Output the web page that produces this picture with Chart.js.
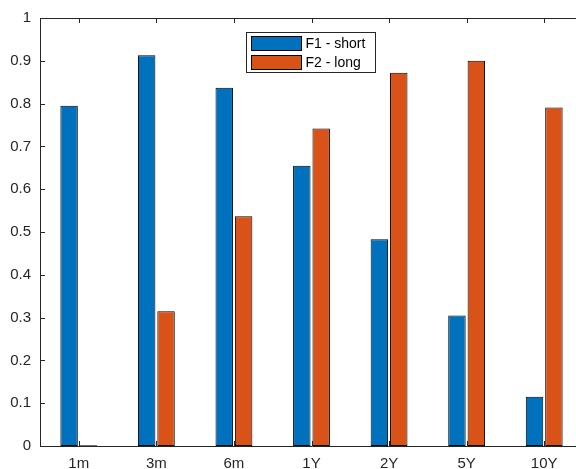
<!DOCTYPE html>
<html>
<head>
<script src="https://cdn.jsdelivr.net/npm/chart.js@4"></script>
<style>
  html, body { margin: 0; padding: 0; overflow: hidden; background: #fff; }
  #wrap { width: 576px; height: 469px; overflow: hidden; position: relative; }
  #c { position: absolute; left: 0; top: 0; }
</style>
</head>
<body>
<div id="wrap"><canvas id="c" width="583" height="469"></canvas></div>
<script>
const categories = ["1m", "3m", "6m", "1Y", "2Y", "5Y", "10Y"];
const shortVals = [0.795, 0.913, 0.837, 0.655, 0.483, 0.305, 0.115];
const longVals = [0.002, 0.315, 0.537, 0.742, 0.872, 0.900, 0.791];
const yTicks = [0, 0.1, 0.2, 0.3, 0.4, 0.5, 0.6, 0.7, 0.8, 0.9, 1];
const seriesNames = ["F1 - short", "F2 - long"];
const colors = ["#0072BD", "#D95319"];

// box without the right side (it falls outside the window in the reference)
const axisBox = {
  id: "axisBox",
  afterDraw(chart) {
    const { ctx, chartArea: a, scales } = chart;
    const right = a.right + 10;
    ctx.save();
    ctx.strokeStyle = "#262626";
    ctx.lineWidth = 1;
    ctx.beginPath();
    ctx.moveTo(right, a.top + 0.5); ctx.lineTo(a.left + 0.5, a.top + 0.5);
    ctx.lineTo(a.left + 0.5, a.bottom + 0.5); ctx.lineTo(right, a.bottom + 0.5);
    categories.forEach((c, i) => {
      const x = Math.round(scales.x.getPixelForValue(i)) + 0.5;
      ctx.moveTo(x, a.bottom); ctx.lineTo(x, a.bottom - 5);
      ctx.moveTo(x, a.top); ctx.lineTo(x, a.top + 5);
    });
    yTicks.forEach(v => {
      const y = Math.round(scales.y.getPixelForValue(v)) + 0.5;
      ctx.moveTo(a.left, y); ctx.lineTo(a.left + 5, y);
    });
    ctx.stroke();
    // legend
    const lx = 246.5, ly = 32.5, lw = 129, lh = 40;
    ctx.fillStyle = "#fff";
    ctx.fillRect(lx, ly, lw, lh);
    ctx.strokeRect(lx, ly, lw, lh);
    ctx.font = "14px 'Liberation Sans', Arial, sans-serif";
    ctx.textBaseline = "middle";
    seriesNames.forEach((n, i) => {
      const y = ly + 4 + i * 19;
      ctx.fillStyle = colors[i];
      ctx.fillRect(lx + 5, y, 50, 14);
      ctx.strokeStyle = "#000";
      ctx.strokeRect(lx + 5, y, 50, 14);
      ctx.fillStyle = "#000";
      ctx.fillText(n, lx + 59, y + 8);
    });
    ctx.restore();
  }
};

new Chart(document.getElementById("c"), {
  type: "bar",
  data: {
    labels: categories,
    datasets: [
      { label: seriesNames[0], data: shortVals, backgroundColor: colors[0], borderColor: "#000", borderWidth: 1, borderSkipped: false },
      { label: seriesNames[1], data: longVals, backgroundColor: colors[1], borderColor: "#000", borderWidth: 1, borderSkipped: false }
    ]
  },
  options: {
    responsive: false,
    animation: false,
    datasets: { bar: { categoryPercentage: 0.5, barPercentage: 0.9 } },
    layout: { padding: { top: 18, right: 0, left: 0, bottom: 0 } },
    plugins: { legend: { display: false }, tooltip: { enabled: false } },
    scales: {
      x: {
        grid: { display: false, drawTicks: false },
        border: { display: false },
        ticks: { color: "#262626", font: { size: 15, family: "'Liberation Sans', Arial, sans-serif" }, padding: 9, maxRotation: 0 },
        afterFit(s) { s.height = 23; }
      },
      y: {
        min: 0, max: 1,
        grid: { display: false, drawTicks: false },
        border: { display: false },
        afterBuildTicks(s) { s.ticks = yTicks.map(v => ({ value: v })); },
        ticks: { color: "#262626", font: { size: 15, family: "'Liberation Sans', Arial, sans-serif" }, padding: 9,
          callback: v => (v === 0 || v === 1) ? String(v) : v.toFixed(1) },
        afterFit(s) { s.width = 40; }
      }
    }
  },
  plugins: [axisBox]
});
</script>
</body>
</html>
